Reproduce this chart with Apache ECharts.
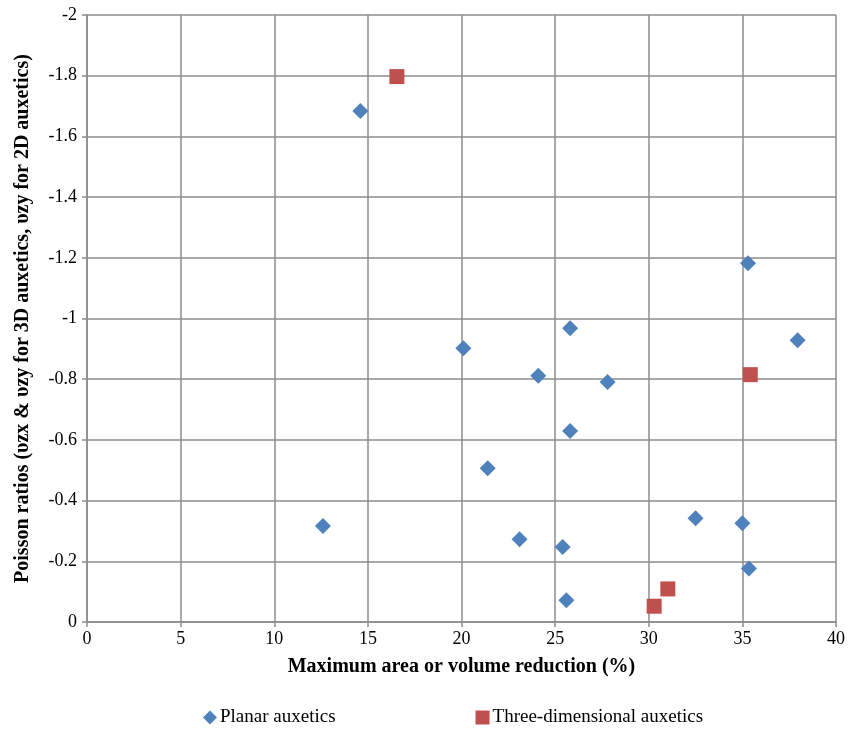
<!DOCTYPE html>
<html>
<head>
<meta charset="utf-8">
<script src="https://cdn.jsdelivr.net/npm/echarts@6/dist/echarts.min.js"></script>
<style>html,body{margin:0;padding:0;background:#fff}#c{width:848px;height:729px}</style>
</head>
<body>
<div id="c"></div>
<script>
const xTicks = [0, 5, 10, 15, 20, 25, 30, 35, 40];
const yTicks = [-2, -1.8, -1.6, -1.4, -1.2, -1, -0.8, -0.6, -0.4, -0.2, 0];
const seriesNames = ['Planar auxetics', 'Three-dimensional auxetics'];
const planarX = [12.6, 14.6, 20.1, 21.4, 23.1, 24.1, 25.4, 25.6, 25.8, 25.8, 27.8, 32.5, 35.0, 35.3, 35.35, 37.95];
const planarY = [-0.316, -1.684, -0.902, -0.507, -0.273, -0.811, -0.247, -0.072, -0.968, -0.629, -0.791, -0.342, -0.325, -1.182, -0.176, -0.928];
const threeDX = [16.55, 35.42, 30.29, 31.02];
const threeDY = [-1.797, -0.815, -0.052, -0.109];

const chart = echarts.init(document.getElementById('c'));
const font = '"Liberation Serif", "Times New Roman", serif';
const gridColor = '#8c8c8c';
chart.setOption({
  animation: false,
  backgroundColor: '#fff',
  textStyle: { fontFamily: font },
  grid: { left: 87, right: 12, top: 15, bottom: 107, containLabel: false },
  xAxis: {
    type: 'value', min: xTicks[0], max: xTicks[xTicks.length - 1], interval: 5,
    name: 'Maximum area or volume reduction (%)', nameLocation: 'middle', nameGap: 35,
    nameTextStyle: { fontFamily: font, fontWeight: 'bold', fontSize: 20, color: '#000' },
    axisLine: { lineStyle: { color: gridColor, width: 1.5 } },
    axisTick: { show: true, length: 5, lineStyle: { color: gridColor, width: 1.5 } },
    axisLabel: { fontFamily: font, fontSize: 18, color: '#000', margin: 8 },
    splitLine: { show: true, lineStyle: { color: gridColor, width: 1.5 } }
  },
  yAxis: {
    type: 'value', min: yTicks[0], max: yTicks[yTicks.length - 1], interval: 0.2, inverse: true,
    name: 'Poisson ratios (υzx & υzy for 3D auxetics, υzy for 2D auxetics)', nameLocation: 'middle', nameGap: 54,
    nameTextStyle: { fontFamily: font, fontWeight: 'bold', fontSize: 20, color: '#000' },
    axisLine: { show: true, lineStyle: { color: gridColor, width: 1.5 } },
    axisTick: { show: true, length: 5, lineStyle: { color: gridColor, width: 1.5 } },
    axisLabel: { fontFamily: font, fontSize: 18, color: '#000', margin: 10,
      formatter: v => String(Math.round(v * 10) / 10) },
    splitLine: { show: true, lineStyle: { color: gridColor, width: 1.5 } }
  },
  legend: {
    bottom: -3, left: 198, itemGap: 140, itemWidth: 14, itemHeight: 14,
    textStyle: { fontFamily: font, fontSize: 19, color: '#000', padding: [0, 0, 0, -2] },
    data: seriesNames
  },
  series: [
    { name: seriesNames[0], type: 'scatter', symbol: 'diamond', symbolSize: 16,
      itemStyle: { color: '#4F81BD', opacity: 1 },
      data: planarX.map((x, i) => [x, planarY[i]]) },
    { name: seriesNames[1], type: 'scatter', symbol: 'rect', symbolSize: 15,
      itemStyle: { color: '#C0504D', opacity: 1 },
      data: threeDX.map((x, i) => [x, threeDY[i]]) }
  ]
});
</script>
</body>
</html>
